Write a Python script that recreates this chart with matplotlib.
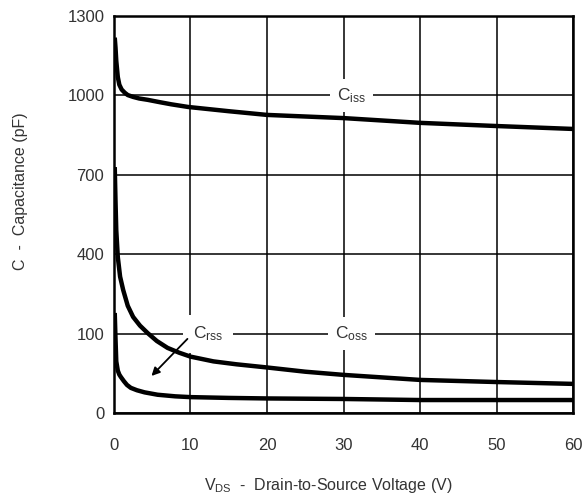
import matplotlib
matplotlib.use("Agg")
import matplotlib.pyplot as plt

plt.rcParams['font.family'] = ['Liberation Sans', 'DejaVu Sans']
plt.rcParams['mathtext.fontset'] = 'custom'
plt.rcParams['mathtext.rm'] = 'Liberation Sans'
plt.rcParams['mathtext.it'] = 'Liberation Sans'

# grid positions on the capacitance axis and the labels printed on them
y_ticks = [0, 300, 600, 900, 1200, 1500]
y_labels = ["0", "100", "400", "700", "1000", "1300"]
x_ticks = [0, 10, 20, 30, 40, 50, 60]

# capacitance curves, in axis units
v_iss = [0.1, 0.2, 0.3, 0.5, 0.7, 1.0, 1.4, 1.8, 2.5, 3.3, 4.4, 6, 7.5, 9.7, 15, 20, 30, 40, 50, 60]
c_iss = [1418, 1380, 1330, 1269, 1240, 1222, 1210, 1201, 1194, 1188, 1183, 1174, 1166, 1156, 1140, 1126, 1114, 1096, 1084, 1073]

v_oss = [0.1, 0.2, 0.3, 0.5, 0.8, 1.2, 1.8, 2.5, 3.4, 4.4, 5.6, 7, 8.5, 10, 13, 16, 20, 25, 30, 40, 50, 60]
c_oss = [929, 800, 690, 589, 515, 465, 405, 363, 330, 302, 272, 246, 228, 213, 195, 184, 172, 156, 144, 125, 117, 110]

v_rss = [0.1, 0.2, 0.3, 0.5, 0.7, 0.9, 1.3, 1.7, 2.2, 3, 4, 5.7, 8, 10, 15, 20, 30, 40, 50, 60]
c_rss = [378, 280, 195, 160, 145, 136, 120, 106, 95, 86, 78, 69, 63, 60, 57, 55, 53, 49, 49, 49]

ink = "#333333"

fig = plt.figure(figsize=(5.86, 4.97), dpi=100)
ax = fig.add_axes([0.1945, 0.169, 0.7835, 0.799])

for v, c in [(v_iss, c_iss), (v_oss, c_oss), (v_rss, c_rss)]:
    ax.plot(v, c, color="black", lw=3.2, solid_capstyle="butt",
            solid_joinstyle="round", zorder=3)

ax.set_xlim(0, 60)
ax.set_ylim(0, 1500)
ax.set_xticks(x_ticks)
ax.set_yticks(y_ticks)
ax.set_yticklabels(y_labels)
ax.grid(True, color="black", lw=1.1)
ax.set_axisbelow(True)
ax.tick_params(length=0, labelsize=12, colors=ink)
ax.tick_params(axis="x", pad=18)
ax.tick_params(axis="y", pad=7)
for s in ax.spines.values():
    s.set_linewidth(1.8)

# curve labels sit on the gridlines with a white box cutting the line
box = dict(facecolor="white", edgecolor="none", pad=5)
ax.text(31, 1200, r"C$_{\mathrm{iss}}$", ha="center", va="center",
        fontsize=12.5, color=ink, bbox=box, zorder=2)
ax.text(31, 300, r"C$_{\mathrm{oss}}$", ha="center", va="center",
        fontsize=12.5, color=ink, bbox=box, zorder=2)
ax.text(12.3, 300, r"C$_{\mathrm{rss}}$", ha="center", va="center",
        fontsize=12.5, color=ink, bbox=dict(facecolor="white", edgecolor="none", pad=7), zorder=2)
ax.annotate("", xy=(4.9, 140), xytext=(9.6, 280),
            arrowprops=dict(arrowstyle="-|>", color="black", lw=1.3,
                            mutation_scale=12, shrinkA=0, shrinkB=0), zorder=4)

fig.text(0.56, 0.005, r"V$_{\mathrm{DS}}$  -  Drain-to-Source Voltage (V)",
         ha="center", va="bottom", fontsize=11.5, color=ink)
fig.text(0.035, 0.615, "C  -  Capacitance (pF)", rotation=90,
         ha="center", va="center", fontsize=11.5, color=ink)

fig.savefig("out.png", dpi=100)
